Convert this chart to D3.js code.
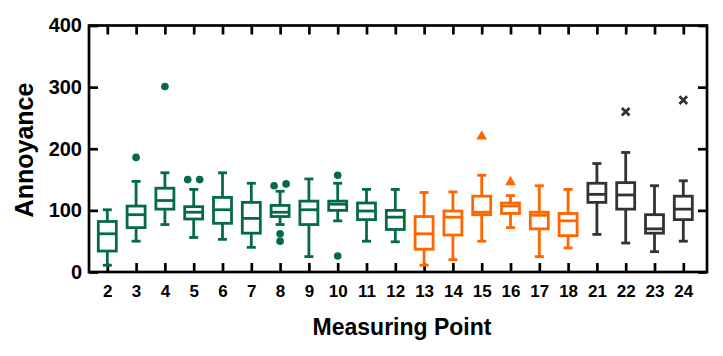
<!DOCTYPE html>
<html><head><meta charset="utf-8">
<script src="https://cdn.jsdelivr.net/npm/d3@7"></script>
<style>body{margin:0;background:#fff}svg{display:block}text{font-family:"Liberation Sans",Arial,sans-serif;font-weight:bold;fill:#000}</style>
</head><body><svg id="c" width="723" height="356"></svg>
<script>
const categories = ["2","3","4","5","6","7","8","9","10","11","12","13","14","15","16","17","18","21","22","23","24"];
const groups =     [0,0,0,0,0,0,0,0,0,0,0,1,1,1,1,1,1,2,2,2,2];
const whiskerMax = [101,147,161,134,161,144,131,151,144,134,134,129,130,157,124,140,134,176,194,140,148];
const q3 =         [82,107,136,106,121,113,108,115,115,112,100,90,99,123,112,97,95,144,145,93,123];
const median =     [62,93,116,97,101,87,97,101,110,99,89,62,89,97,107,92,83,126,125,70,102];
const q1 =         [34,72,102,86,79,63,90,77,100,85,69,37,60,93,95,70,59,113,102,63,85];
const whiskerMin = [11,50,77,56,53,40,77,25,83,50,49,11,20,50,72,25,39,61,47,33,50];
const outliers =   [[],[186],[301],[150,150],[],[],[140,143,50,62],[],[157,26],[],[],[],[],[220],[146],[],[],[],[260],[],[279]];
const yTicks = [0,100,200,300,400];
const groupColors = ["#056B45","#FF6600","#333333"];
const groupSymbols = [d3.symbolCircle, d3.symbolTriangle, d3.symbolX];

const svg = d3.select("#c");
const L=89, R=707, T=25.5, B=272;
const x = d3.scalePoint().domain(categories).range([107.3, 683.3]);
const y = d3.scaleLinear().domain([0,400]).range([B, T]);

svg.append("rect").attr("x",L).attr("y",T).attr("width",R-L).attr("height",B-T)
  .attr("fill","none").attr("stroke","#000").attr("stroke-width",2.7);
const tl = 9;
const axL = d3.axisLeft(y).tickValues(yTicks).tickSize(-tl).tickPadding(7);
const gL = svg.append("g").attr("transform",`translate(${L},0)`).call(axL);
gL.select(".domain").remove();
gL.selectAll("line").attr("stroke","#000").attr("stroke-width",2.7);
gL.selectAll("text").attr("font-size",20).attr("font-family","Liberation Sans, Arial").attr("font-weight","bold").attr("fill","#000");
const axR = d3.axisRight(y).tickValues(yTicks).tickSize(-tl).tickFormat("");
const gR = svg.append("g").attr("transform",`translate(${R},0)`).call(axR);
gR.select(".domain").remove();
gR.selectAll("line").attr("stroke","#000").attr("stroke-width",2.7);
const axB = d3.axisBottom(x).tickSize(-tl).tickPadding(13);
const gB = svg.append("g").attr("transform",`translate(0,${B})`).call(axB);
gB.select(".domain").remove();
gB.selectAll("line").attr("stroke","#000").attr("stroke-width",2.7);
gB.selectAll("text").attr("font-size",17).attr("font-family","Liberation Sans, Arial").attr("font-weight","bold").attr("fill","#000");
const axT = d3.axisTop(x).tickSize(-tl).tickFormat("");
const gT = svg.append("g").attr("transform",`translate(0,${T})`).call(axT);
gT.select(".domain").remove();
gT.selectAll("line").attr("stroke","#000").attr("stroke-width",2.7);

const bw = 18, cw = 9, sw = 2.8;
categories.forEach((c,i)=>{
  const cx = x(c), col = groupColors[groups[i]];
  const g = svg.append("g").attr("stroke",col).attr("stroke-width",sw).attr("fill","none");
  g.append("line").attr("x1",cx).attr("x2",cx).attr("y1",y(whiskerMax[i])).attr("y2",y(q3[i]));
  g.append("line").attr("x1",cx).attr("x2",cx).attr("y1",y(q1[i])).attr("y2",y(whiskerMin[i]));
  g.append("line").attr("x1",cx-cw/2).attr("x2",cx+cw/2).attr("y1",y(whiskerMax[i])).attr("y2",y(whiskerMax[i]));
  g.append("line").attr("x1",cx-cw/2).attr("x2",cx+cw/2).attr("y1",y(whiskerMin[i])).attr("y2",y(whiskerMin[i]));
  g.append("rect").attr("x",cx-bw/2).attr("width",bw).attr("y",y(q3[i])).attr("height",y(q1[i])-y(q3[i])).attr("fill","#fff");
  g.append("line").attr("x1",cx-bw/2).attr("x2",cx+bw/2).attr("y1",y(median[i])).attr("y2",y(median[i]));
  const os = outliers[i];
  const clusters = [];
  os.forEach(v=>{
    const cl = clusters.find(k=>Math.abs(k[0]-v)<6);
    if(cl) cl.push(v); else clusters.push([v]);
  });
  const gi = groups[i];
  const sym = d3.symbol().type(groupSymbols[gi]).size(gi===0?46:gi===1?50:40);
  clusters.forEach(cl=>{
    cl.forEach((v,j)=>{
      const dx = (j-(cl.length-1)/2)*12;
      const p = svg.append("path").attr("d",sym()).attr("transform",`translate(${cx+dx},${y(v)})`);
      if(gi===2) p.attr("fill","none").attr("stroke",col).attr("stroke-width",2.8);
      else p.attr("fill",col);
    });
  });
});

svg.append("text").attr("x",402).attr("y",335).attr("text-anchor","middle").attr("font-size",23).text("Measuring Point");
svg.append("text").attr("transform","translate(33,150) rotate(-90)").attr("text-anchor","middle").attr("font-size",25).text("Annoyance");
</script></body></html>
